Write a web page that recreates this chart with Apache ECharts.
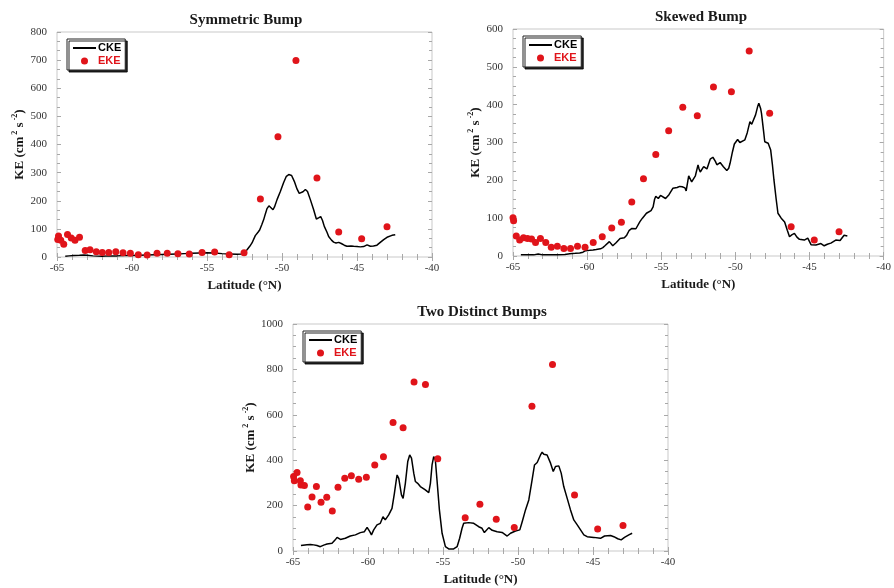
<!DOCTYPE html>
<html>
<head>
<meta charset="utf-8">
<script src="https://cdn.jsdelivr.net/npm/echarts@6/dist/echarts.min.js"></script>
<style>html,body{margin:0;padding:0;background:#fff;}#c{width:894px;height:588px;}</style>
</head>
<body>
<div id="c"></div>
<script>
// ---- data (latitude °N, KE cm^2 s^-2) ----
const panelTitles = ['Symmetric Bump', 'Skewed Bump', 'Two Distinct Bumps'];
const xTicks = { min: -65, max: -40, interval: 5 };
const yMax = [800, 600, 1000];
const yInterval = [100, 100, 200];

const cke1 = [[-64.45,3],[-64.2,4],[-63.9,5],[-63.5,6],[-63.2,7],[-63.12,2],[-63.0,6],[-62.6,4],[-62.0,3],[-61.5,4],[-61.0,4],[-60.5,5],[-60.0,5],[-59.5,6],[-59.0,7],[-58.5,8],[-58.0,9],[-57.5,10],[-57.0,11],[-56.5,12],[-56.0,13],[-55.5,14],[-55.0,15],[-54.5,14],[-54.0,12],[-53.5,11],[-53.0,10],[-52.7,11],[-52.5,16],[-52.33,26],[-52.15,38],[-52.0,50],[-51.78,76],[-51.6,88],[-51.49,96],[-51.35,115],[-51.22,133],[-51.1,155],[-51.0,172],[-50.87,182],[-50.75,176],[-50.6,168],[-50.5,178],[-50.33,204],[-50.11,233],[-49.89,265],[-49.71,287],[-49.55,293],[-49.45,296],[-49.36,290],[-49.18,269],[-49.0,242],[-48.85,226],[-48.75,222],[-48.6,232],[-48.44,240],[-48.3,233],[-48.11,204],[-47.89,168],[-47.71,135],[-47.56,139],[-47.42,144],[-47.3,130],[-47.18,109],[-47.0,88],[-46.89,73],[-46.7,60],[-46.56,53],[-46.4,50],[-46.22,52],[-46.05,48],[-45.85,42],[-45.67,38],[-45.4,39],[-45.22,38],[-45.0,37],[-44.78,36],[-44.56,37],[-44.33,43],[-44.2,41],[-44.11,38],[-43.9,39],[-43.67,42],[-43.45,52],[-43.22,62],[-43.0,70],[-42.89,74],[-42.67,77],[-42.45,79]];
const eke1 = [[-64.95,62],[-64.9,75],[-64.75,60],[-64.55,45],[-64.3,80],[-64.05,68],[-63.8,60],[-63.5,70],[-63.12,23],[-62.8,26],[-62.38,19],[-61.98,16],[-61.55,16],[-61.08,19],[-60.6,15],[-60.11,13],[-59.58,8],[-58.99,7],[-58.33,13],[-57.65,13],[-56.94,12],[-56.18,11],[-55.33,16],[-54.49,18],[-53.52,8],[-52.53,15],[-51.44,206],[-50.27,428],[-49.07,699],[-47.67,281],[-46.22,89],[-44.69,65],[-43.0,108]];

const cke2 = [[-64.47,3],[-64.0,3],[-63.6,3],[-63.3,5],[-63.0,3],[-62.5,3],[-62.0,3],[-61.5,4],[-61.17,6],[-60.8,7],[-60.5,8],[-60.28,10],[-60.1,14],[-59.83,15],[-59.6,16],[-59.39,17],[-59.1,19],[-58.94,22],[-58.8,27],[-58.67,31],[-58.5,38],[-58.4,34],[-58.27,27],[-58.05,35],[-57.78,46],[-57.49,48],[-57.33,55],[-57.16,68],[-56.98,73],[-56.71,72],[-56.44,91],[-56.27,100],[-56.0,113],[-55.69,120],[-55.55,130],[-55.45,150],[-55.37,158],[-55.2,152],[-55.05,160],[-54.93,162],[-54.71,152],[-54.48,162],[-54.22,179],[-53.93,181],[-53.75,184],[-53.59,183],[-53.4,180],[-53.32,172],[-53.15,212],[-53.1,214],[-52.95,196],[-52.88,194],[-52.7,212],[-52.52,241],[-52.45,230],[-52.37,222],[-52.14,236],[-51.92,230],[-51.7,256],[-51.52,261],[-51.35,250],[-51.25,241],[-51.03,247],[-50.81,236],[-50.58,226],[-50.45,232],[-50.36,245],[-50.2,275],[-50.07,296],[-49.85,308],[-49.7,300],[-49.58,298],[-49.36,307],[-49.2,326],[-49.02,355],[-48.9,348],[-48.8,351],[-48.64,373],[-48.5,395],[-48.42,404],[-48.3,390],[-48.24,377],[-48.1,330],[-48.02,302],[-47.9,300],[-47.79,298],[-47.62,280],[-47.5,240],[-47.4,201],[-47.25,150],[-47.13,113],[-46.91,100],[-46.68,90],[-46.5,68],[-46.35,51],[-46.2,56],[-46.02,60],[-45.85,50],[-45.68,44],[-45.35,42],[-45.12,47],[-45.0,38],[-44.9,30],[-44.57,29],[-44.23,33],[-44.01,27],[-43.8,31],[-43.56,34],[-43.23,42],[-42.94,41],[-42.67,55],[-42.45,53]];
const eke2 = [[-65.0,101],[-64.96,93],[-64.78,53],[-64.55,42],[-64.29,48],[-64.02,46],[-63.75,45],[-63.48,36],[-63.15,46],[-62.79,36],[-62.42,23],[-62.01,26],[-61.57,20],[-61.12,20],[-60.65,26],[-60.14,23],[-59.59,36],[-58.98,51],[-58.34,74],[-57.69,89],[-56.99,143],[-56.2,204],[-55.37,268],[-54.5,331],[-53.55,393],[-52.57,371],[-51.48,447],[-50.27,434],[-49.07,542],[-47.69,377],[-46.24,77],[-44.68,42],[-43.01,64]];

const cke3 = [[-64.47,24],[-64.07,28],[-63.84,29],[-63.62,27],[-63.4,24],[-63.18,19],[-62.95,26],[-62.73,31],[-62.4,34],[-62.2,48],[-62.06,60],[-61.84,51],[-61.51,56],[-61.18,66],[-60.84,71],[-60.51,81],[-60.24,85],[-60.06,104],[-59.88,85],[-59.77,71],[-59.62,93],[-59.4,115],[-59.18,122],[-59.0,151],[-58.85,137],[-58.62,159],[-58.4,188],[-58.24,254],[-58.12,310],[-58.06,335],[-57.95,320],[-57.77,247],[-57.66,232],[-57.51,298],[-57.35,394],[-57.22,423],[-57.1,409],[-56.95,343],[-56.84,306],[-56.69,298],[-56.51,284],[-56.33,276],[-56.18,269],[-55.95,257],[-55.84,298],[-55.73,379],[-55.62,416],[-55.51,401],[-55.4,313],[-55.24,181],[-55.06,78],[-54.84,19],[-54.62,9],[-54.29,9],[-54.06,19],[-53.89,56],[-53.73,100],[-53.62,122],[-53.29,125],[-52.95,122],[-52.62,107],[-52.4,100],[-52.24,81],[-51.95,103],[-51.72,91],[-51.39,85],[-51.06,82],[-50.72,66],[-50.5,78],[-50.17,88],[-49.88,93],[-49.72,129],[-49.5,181],[-49.28,225],[-49.06,313],[-48.9,379],[-48.72,390],[-48.61,387],[-48.5,423],[-48.39,435],[-48.28,426],[-48.06,423],[-47.83,387],[-47.65,350],[-47.5,372],[-47.28,375],[-47.12,343],[-46.95,284],[-46.72,232],[-46.5,181],[-46.28,137],[-46.05,115],[-45.83,93],[-45.61,71],[-45.39,63],[-44.95,60],[-44.5,56],[-44.23,66],[-43.83,68],[-43.61,63],[-43.35,54],[-43.12,49],[-42.9,60],[-42.61,71],[-42.39,78]];
const eke3 = [[-64.96,328],[-64.91,309],[-64.73,346],[-64.51,310],[-64.47,291],[-64.24,288],[-64.02,194],[-63.73,238],[-63.44,284],[-63.13,215],[-62.75,237],[-62.38,176],[-62.0,281],[-61.55,321],[-61.11,331],[-60.62,316],[-60.11,325],[-59.55,379],[-58.97,415],[-58.33,566],[-57.66,543],[-56.93,744],[-56.17,734],[-55.35,406],[-53.52,147],[-52.54,206],[-51.45,140],[-50.25,104],[-49.07,638],[-47.7,822],[-46.23,247],[-44.69,97],[-43.0,112]];

const ckeSets = [cke1, cke2, cke3];
const ekeSets = [eke1, eke2, eke3];

// ---- layout ----
const grids = [
  { left: 57, top: 32, width: 375, height: 225 },
  { left: 513, top: 29, width: 374, height: 227 },
  { left: 293, top: 324, width: 375, height: 227 }
];
const yMinorSplit = [3, 4, 4];
const titlePos = [[241, 8], [696, 5], [477, 300]];

const SERIF = '"Liberation Serif","Times New Roman",serif';
const SANS = '"Liberation Sans",Arial,sans-serif';
const RED = '#e0141a';
const TICK = '#a8a8a8';

const option = { animation: false, backgroundColor: '#fff',
  title: [], grid: [], xAxis: [], yAxis: [], legend: [], series: [] };

grids.forEach((g, i) => {
  option.grid.push(Object.assign({ show: true, borderColor: '#c9c9c9', borderWidth: 1, backgroundColor: '#fff', containLabel: false }, g));
  option.title.push({ text: panelTitles[i], left: titlePos[i][0], top: titlePos[i][1], textAlign: 'center',
    textStyle: { fontFamily: SERIF, fontWeight: 'bold', fontSize: 15, color: '#1a1a1a' } });
  const tickCommon = { show: true, inside: true, length: 4, lineStyle: { color: TICK, width: 1 } };
  const xBase = { type: 'value', gridIndex: i, min: xTicks.min, max: xTicks.max, interval: xTicks.interval,
    axisLine: { show: false }, splitLine: { show: false },
    axisTick: tickCommon,
    minorTick: { show: true, splitNumber: 5, length: 3, lineStyle: { color: TICK, width: 1 } } };
  option.xAxis.push(Object.assign({}, xBase, { position: 'bottom',
    name: 'Latitude (°N)', nameLocation: 'middle', nameGap: 22,
    nameTextStyle: { fontFamily: SERIF, fontWeight: 'bold', fontSize: 13, color: '#1a1a1a' },
    axisLabel: { fontFamily: SERIF, fontSize: 11, color: '#333', margin: 6 } }));
  option.xAxis.push(Object.assign({}, xBase, { position: 'top', axisLabel: { show: false } }));
  const yBase = { type: 'value', gridIndex: i, min: 0, max: yMax[i], interval: yInterval[i],
    axisLine: { show: false }, splitLine: { show: false },
    axisTick: tickCommon,
    minorTick: { show: true, splitNumber: yMinorSplit[i], length: 3, lineStyle: { color: TICK, width: 1 } } };
  option.yAxis.push(Object.assign({}, yBase, { position: 'left',
    name: '{t|KE (cm}{s| 2}{t| s}{s| -2}{t|)}', nameLocation: 'middle', nameRotate: 90, nameGap: 27,
    nameTextStyle: { rich: {
      t: { fontFamily: SERIF, fontWeight: 'bold', fontSize: 13, color: '#1a1a1a', lineHeight: 18 },
      s: { fontFamily: SERIF, fontWeight: 'bold', fontSize: 8, color: '#1a1a1a', verticalAlign: 'top', lineHeight: 10 } } },
    axisLabel: { fontFamily: SERIF, fontSize: 11, color: '#333', margin: 10, formatter: v => String(v) } }));
  option.yAxis.push(Object.assign({}, yBase, { position: 'right', axisLabel: { show: false } }));

  option.legend.push({ orient: 'vertical', left: g.left + 10, top: g.top + 7,
    padding: [3, 4, 3, 5], itemGap: 1, itemWidth: 23, itemHeight: 7,
    backgroundColor: '#fff', borderColor: '#222', borderWidth: 1,
    shadowColor: 'rgba(0,0,0,0.85)', shadowBlur: 0, shadowOffsetX: 2, shadowOffsetY: 2,
    textStyle: { fontFamily: SANS, fontWeight: 'bold', fontSize: 11, lineHeight: 12, padding: [0, 0, 0, -3] },
    selectedMode: false,
    data: [ { name: 'CKE', textStyle: { color: '#000' }, itemStyle: { opacity: 0 } },
            { name: 'EKE', textStyle: { color: RED } } ] });

  option.series.push({ name: 'CKE', type: 'line', xAxisIndex: 2 * i, yAxisIndex: 2 * i,
    data: ckeSets[i], symbol: 'none', lineStyle: { color: '#000', width: 1.5 }, itemStyle: { color: '#000' }, z: 3 });
  option.series.push({ name: 'EKE', type: 'scatter', xAxisIndex: 2 * i, yAxisIndex: 2 * i,
    data: ekeSets[i], symbol: 'circle', symbolSize: 7, itemStyle: { color: RED, opacity: 1 }, z: 4 });
});

const chart = echarts.init(document.getElementById('c'), null, { renderer: 'canvas' });
chart.setOption(option);
</script>
</body>
</html>
